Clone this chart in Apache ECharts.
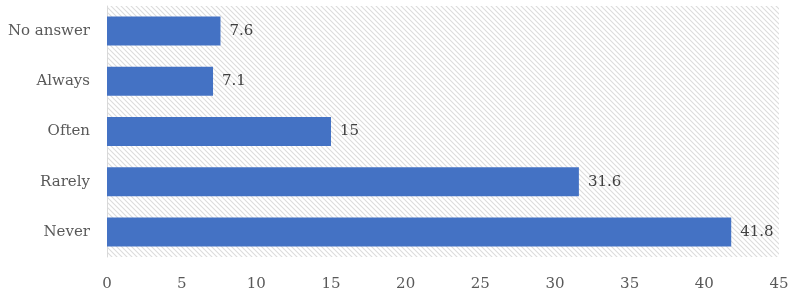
<!DOCTYPE html>
<html>
<head>
<meta charset="utf-8">
<script src="https://cdn.jsdelivr.net/npm/echarts@6/dist/echarts.min.js"></script>
<style>
  html, body { margin: 0; padding: 0; background: #fff; }
  #chart { width: 792px; height: 295px; }
</style>
</head>
<body>
<div id="chart"></div>
<script>
// data
const categories = ['Never', 'Rarely', 'Often', 'Always', 'No answer'];
const values = [41.8, 31.6, 15, 7.1, 7.6];
const xTicks = { min: 0, max: 45, interval: 5 };

const FONT = "'DejaVu Serif', serif";

// diagonal hatch for the plot background
const makeHatch = () => {
  const size = 5;
  const c = document.createElement('canvas');
  c.width = size;
  c.height = size;
  const ctx = c.getContext('2d');
  ctx.fillStyle = '#fff';
  ctx.fillRect(0, 0, size, size);
  ctx.strokeStyle = '#dcdcdc';
  ctx.lineWidth = 1.1;
  ctx.beginPath();
  ctx.moveTo(-1, -1);
  ctx.lineTo(size + 1, size + 1);
  ctx.moveTo(-1, size - 1);
  ctx.lineTo(1, size + 1);
  ctx.moveTo(size - 1, -1);
  ctx.lineTo(size + 1, 1);
  ctx.stroke();
  return c;
};

const chart = echarts.init(document.getElementById('chart'));

chart.setOption({
  animation: false,
  grid: {
    left: 107,
    right: 13,
    top: 6,
    bottom: 38,
    show: true,
    borderWidth: 0,
    backgroundColor: { image: makeHatch(), repeat: 'repeat' }
  },
  xAxis: {
    type: 'value',
    min: xTicks.min,
    max: xTicks.max,
    interval: xTicks.interval,
    axisLine: { show: false },
    axisTick: { show: false },
    splitLine: { show: false },
    axisLabel: {
      color: '#595959',
      fontFamily: FONT,
      fontSize: 15,
      margin: 20
    }
  },
  yAxis: {
    type: 'category',
    data: categories,
    axisLine: { show: true, lineStyle: { color: '#d9d9d9' } },
    axisTick: { show: false },
    axisLabel: {
      color: '#595959',
      fontFamily: FONT,
      fontSize: 15,
      margin: 17
    }
  },
  series: [{
    type: 'bar',
    data: values,
    barWidth: 29,
    itemStyle: { color: '#4472c4' },
    label: {
      show: true,
      position: 'right',
      distance: 9,
      color: '#404040',
      fontFamily: FONT,
      fontSize: 15
    }
  }]
});
</script>
</body>
</html>
